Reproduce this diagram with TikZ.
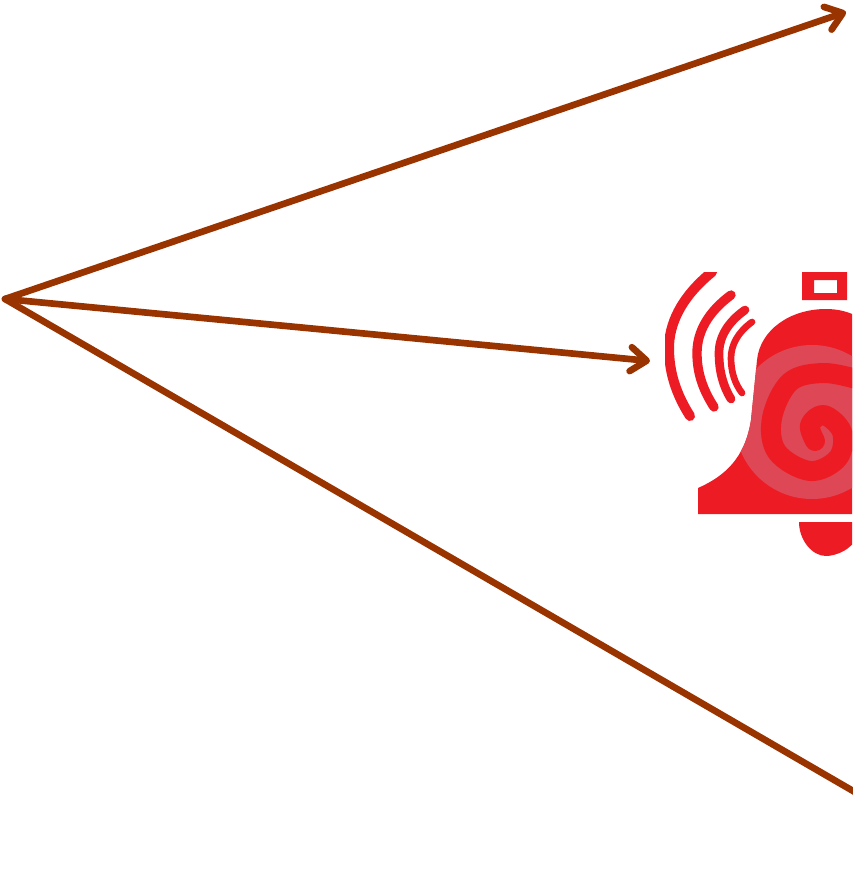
\documentclass[tikz,border=0pt]{standalone}
\usetikzlibrary{arrows.meta}
\definecolor{arrowbrown}{HTML}{993300}
\definecolor{bellred}{HTML}{ED1C24}
\definecolor{belllight}{HTML}{DE4755}
\tikzset{
  link/.style={draw=arrowbrown,line width=5pt,line cap=round,line join=round},
  headed/.style={link,-{Straight Barb[length=12pt,width=18pt,line width=5pt,round]}},
  wave/.style={draw=bellred,line cap=round,line width=#1}
}
\begin{document}
\begin{tikzpicture}[x=0.75pt,y=-0.75pt]
\useasboundingbox (0,0) rectangle (852,891);
\coordinate (apex) at (5,299);
\coordinate (top) at (846,12);
\coordinate (bell) at (650,361);
\coordinate (low) at (860,795);
% bell picture
\begin{scope}
\clip (665,272) rectangle (852,555);
% sound waves
\draw[wave=7.5pt] (712,272) .. controls (680,298) and (669,325) .. (669,348) .. controls (669,372) and (676,394) .. (690,416);
\draw[wave=7pt] (731,295) .. controls (708,312) and (697,332) .. (697,353) .. controls (697,373) and (703,390) .. (714,407);
\draw[wave=6.5pt] (745,310) .. controls (728,322) and (719,337) .. (719,353) .. controls (719,371) and (723,386) .. (731,399);
\draw[wave=5pt] (752,322) .. controls (738,332) and (731,345) .. (731,358) .. controls (731,372) and (735,384) .. (742,393);
% handle
\fill[bellred,even odd rule] (802,272) rectangle (847,300) (814,280) rectangle (837,293);
% body
\path[fill=bellred,save path=\bellbody] (698,514) -- (698,488) .. controls (725,476) and (745,458) .. (751,420)
  -- (757,360) .. controls (760,330) and (790,309) .. (826,309)
  .. controls (850,309) and (870,320) .. (880,340) -- (880,514) -- cycle;
\begin{scope}
\clip[use path=\bellbody];
\fill[belllight] (812,422) circle [radius=77];
\draw[bellred,line width=15pt,line cap=round,line join=round] plot[smooth,tension=0.6] coordinates
  {(815,441) (810,425) (824,415) (842,432) (838,458) (810,471) (777,452) (772,418) (790,382) (823,373) (856,379)};
\end{scope}
% clapper
\fill[bellred] (799,522) -- (860,522) -- (860,530) .. controls (855,550) and (835,556) .. (826,556) .. controls (812,556) and (799,540) .. (799,522) -- cycle;
\end{scope}
% connectors
\draw[headed] (apex) -- (top);
\draw[headed] (apex) -- (bell);
\draw[link] (apex) -- (low);
\end{tikzpicture}
\end{document}
